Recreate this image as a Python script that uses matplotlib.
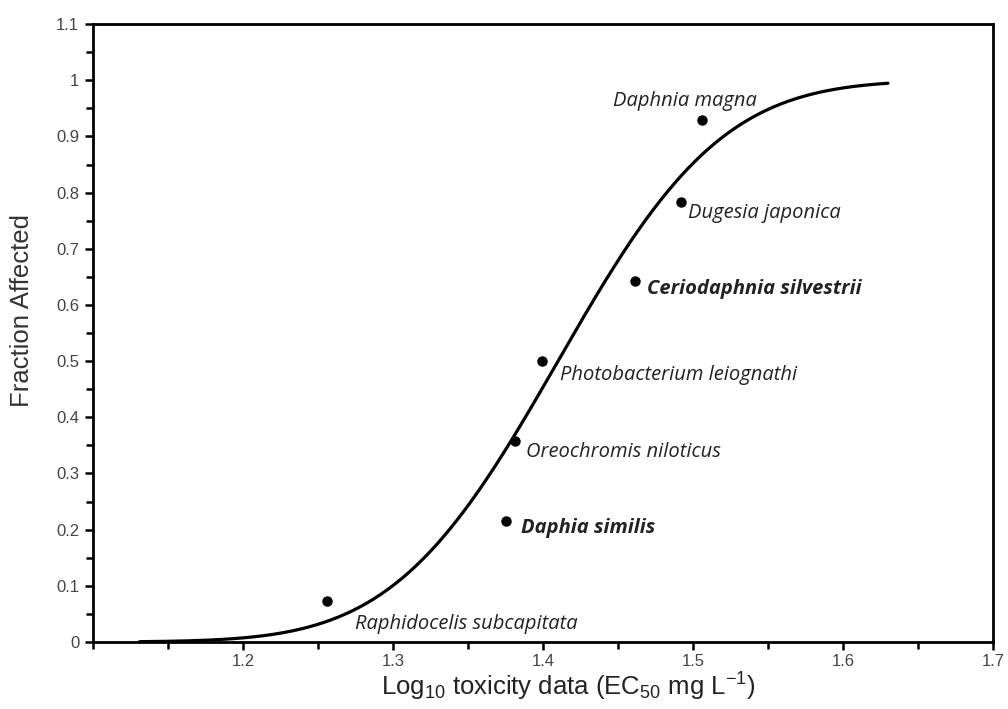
import math

import numpy as np
import matplotlib
matplotlib.use("Agg")
import matplotlib.pyplot as plt
from matplotlib.ticker import MultipleLocator


# ----------------------------
# Data: log10 EC50 per species and fraction affected (SSD plot positions)
# ----------------------------
SPECIES = [
    "Raphidocelis subcapitata",
    "Daphia similis",
    "Oreochromis niloticus",
    "Photobacterium leiognathi",
    "Ceriodaphnia silvestrii",
    "Dugesia japonica",
    "Daphnia magna",
]
LOG_EC50 = [1.256, 1.375, 1.381, 1.399, 1.461, 1.492, 1.506]
FRACTION = [0.073, 0.216, 0.357, 0.501, 0.642, 0.784, 0.929]
BOLD = [False, True, False, False, True, False, False]
# label offsets from each point, in pixels
LABEL_OFFSETS = [(28, -23), (15, -7), (11, -11), (18, -14), (12, -8), (7, -11), (-89, 19)]

CURVE_RANGE = (1.131, 1.63)


def normal_cdf(x, mu, sd):
    return np.array([0.5 * (1 + math.erf((v - mu) / (sd * math.sqrt(2)))) for v in x])


def main():
    plt.rcParams["font.family"] = ["Liberation Sans", "DejaVu Sans"]
    plt.rcParams["mathtext.default"] = "regular"

    fig = plt.figure(figsize=(10.08, 7.09), dpi=100)
    ax = fig.add_axes([0.0923, 0.0945, 0.8928, 0.8715])

    # fitted log-normal SSD from sample mean / sd
    x = np.asarray(LOG_EC50)
    mu, sd = x.mean(), x.std(ddof=1)
    xs = np.linspace(CURVE_RANGE[0], CURVE_RANGE[1], 400)
    ax.plot(xs, normal_cdf(xs, mu, sd), color="black", lw=2.3, solid_capstyle="round")

    ax.plot(LOG_EC50, FRACTION, "o", color="black", ms=6.5, zorder=3)

    for name, px, py, bold, off in zip(SPECIES, LOG_EC50, FRACTION, BOLD, LABEL_OFFSETS):
        ax.annotate(name, (px, py), xytext=off, textcoords="offset pixels",
                    ha="left", va="center", fontsize=14.5, family="Open Sans",
                    style="italic", weight="bold" if bold else "normal",
                    color="#222222")

    ax.set_xlim(1.1, 1.7)
    ax.set_ylim(0, 1.1)
    ax.set_xticks([1.2, 1.3, 1.4, 1.5, 1.6, 1.7])
    ax.xaxis.set_minor_locator(MultipleLocator(0.05))
    ax.set_yticks(np.round(np.arange(0, 1.11, 0.1), 1))
    ax.set_yticklabels(["0", "0.1", "0.2", "0.3", "0.4", "0.5", "0.6", "0.7", "0.8", "0.9", "1", "1.1"])
    ax.yaxis.set_minor_locator(MultipleLocator(0.05))

    ax.tick_params(axis="both", which="major", direction="out", length=6, width=1.8,
                   labelsize=12, labelcolor="#444444")
    ax.tick_params(axis="x", which="major", pad=2.5)
    ax.tick_params(axis="y", which="major", pad=4)
    ax.tick_params(axis="both", which="minor", direction="out", length=5, width=1.8)
    for s in ax.spines.values():
        s.set_linewidth(2.0)

    ax.set_ylabel("Fraction Affected", fontsize=18.5, color="#333333")
    ax.yaxis.set_label_coords(-0.066, 0.537)
    ax.set_xlabel(r"Log$_{10}$ toxicity data (EC$_{50}$ mg L$^{-1}$)", fontsize=18.5, color="#222222")
    ax.xaxis.set_label_coords(0.528, -0.046)

    fig.savefig("out.png", dpi=100)
    plt.close(fig)


if __name__ == "__main__":
    main()
